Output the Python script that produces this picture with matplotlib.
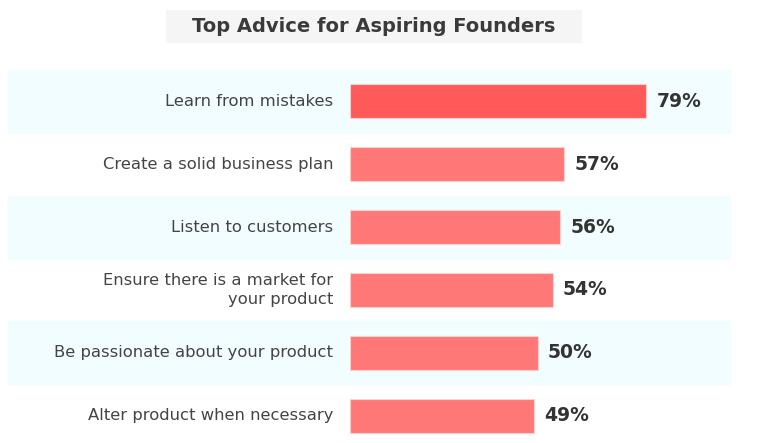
import matplotlib.pyplot as plt
from matplotlib.patches import Rectangle

plt.rcParams['font.family'] = ['DejaVu Sans']

categories = ['Learn from mistakes', 'Create a solid business plan', 'Listen to customers',
              'Ensure there is a market for\nyour product', 'Be passionate about your product',
              'Alter product when necessary']
values = [79, 57, 56, 54, 50, 49]
title = 'Top Advice for Aspiring Founders'

W, H = 760, 443
fig = plt.figure(figsize=(W / 100, H / 100), dpi=100)
fig.patch.set_facecolor('white')

# axes: bars start at x=350px, right edge 730px; rows span 70px..447px
ax = fig.add_axes([350 / W, (H - 447) / H, 380 / W, 377 / H])
ax.set_xlim(0, 380 / 3.75)
ax.set_ylim(len(values) - 0.5, -0.5)
ax.axis('off')

ypos = list(range(len(values)))
for i in ypos:
    if i % 2 == 0:
        ax.axhspan(i - 0.5, i + 0.5, xmin=(8 - 350) / 380, xmax=1.0,
                   color='#f1fdfe', zorder=0, clip_on=False)

colors = ['#ff5a5a'] + ['#ff7878'] * (len(values) - 1)
ax.barh(ypos, values, height=0.54, color=colors, edgecolor='#ffd0d0', linewidth=0.8, zorder=2)

for y, v, c in zip(ypos, values, categories):
    ax.text(v + 2.8, y, f'{v}%', va='center', ha='left', fontsize=13.5,
            fontweight='bold', color='#333333')
    ax.text(-4.5, y, c, va='center', ha='right', fontsize=11.8, color='#444444',
            linespacing=1.35)

# title box
fig.patches.append(Rectangle((166 / W, 1 - 43 / H), 416 / W, 33 / H,
                             transform=fig.transFigure, facecolor='#f5f5f5',
                             edgecolor='none', zorder=0))
fig.text(374 / W, 1 - 26.5 / H, title, ha='center', va='center', fontsize=14,
         fontweight='bold', color='#3a3a3a')

fig.savefig('out.png', dpi=100)
